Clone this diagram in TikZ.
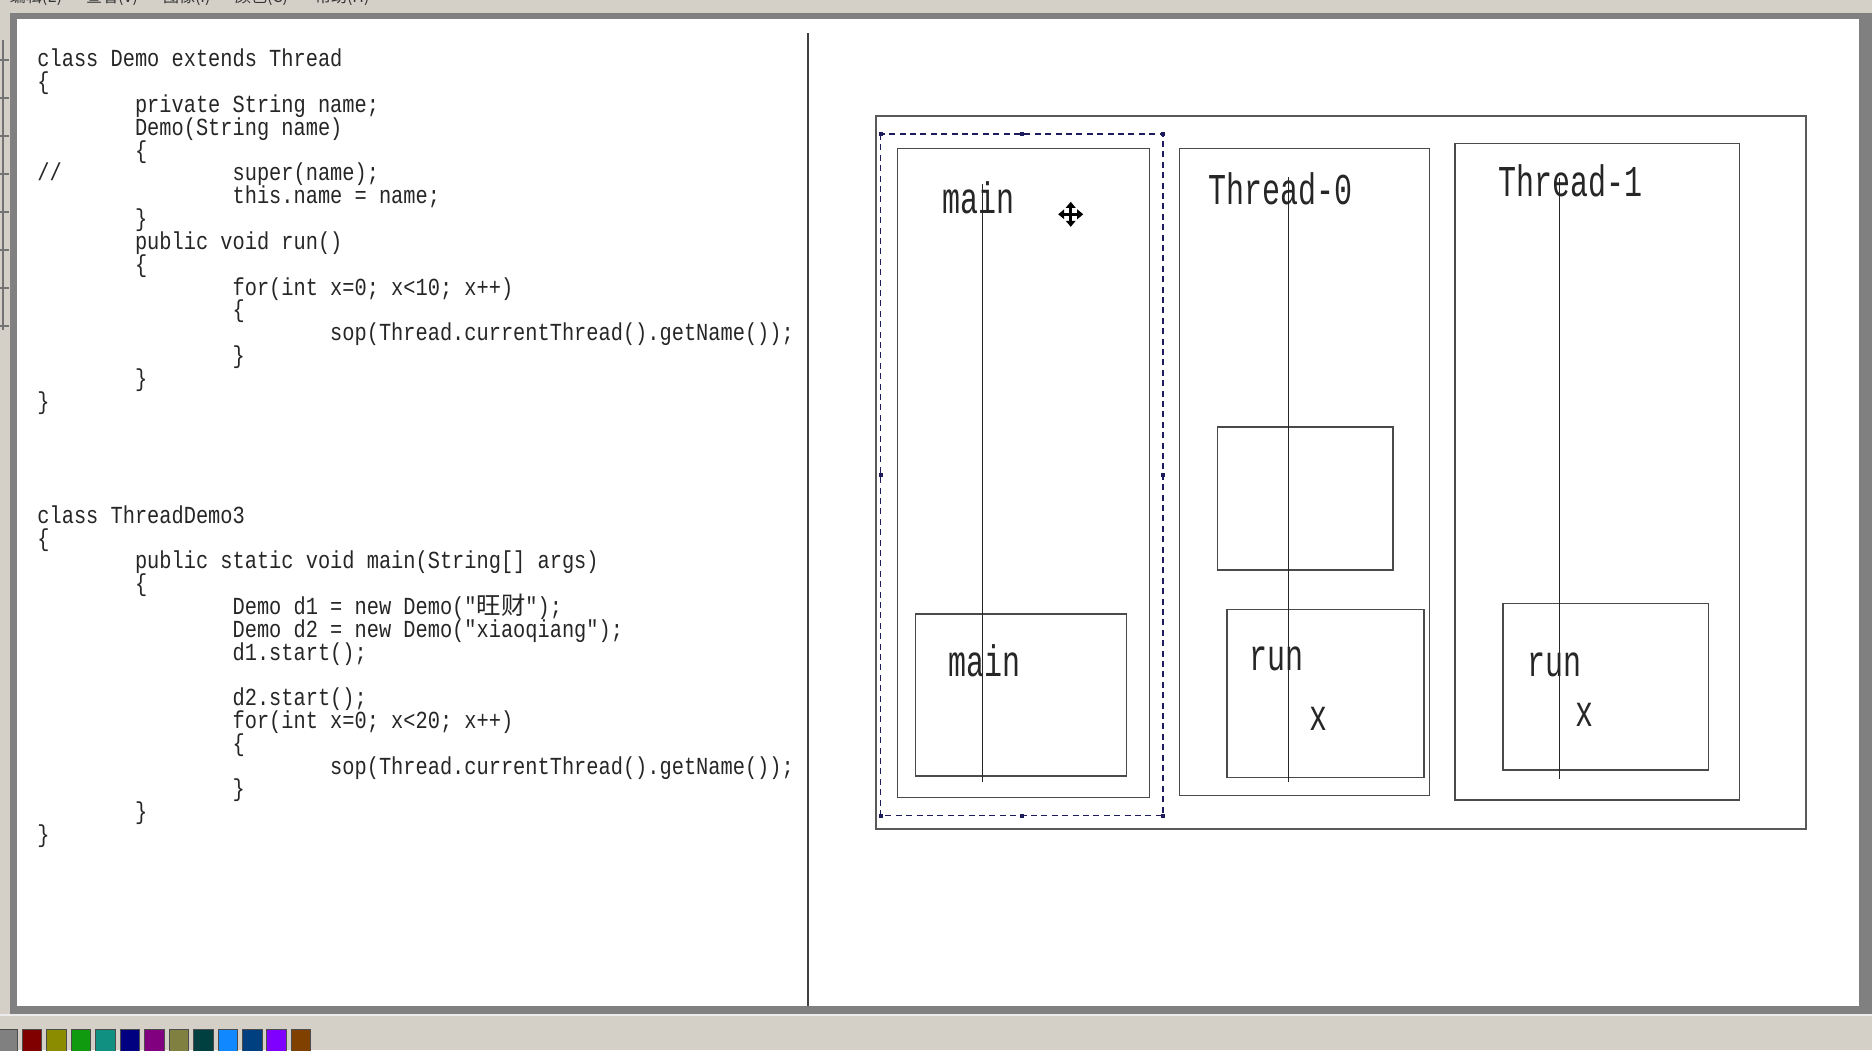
\documentclass[tikz,border=0pt]{standalone}
\usepackage{fontspec}
\newfontfamily\codefont[FakeStretch=0.83]{Liberation Mono}
\newfontfamily\lblfont[FakeStretch=0.682]{Liberation Mono}
\newfontfamily\cjk{Noto Sans CJK SC}
\definecolor{uigray}{HTML}{D4D0C8}
\definecolor{uidark}{HTML}{808080}
\definecolor{selnavy}{HTML}{1C1C5C}
\definecolor{ink}{HTML}{262626}
\definecolor{frame}{HTML}{4A4A4A}
\begin{document}
\begin{tikzpicture}[x=0.5pt,y=-0.5pt,
  code/.style={anchor=base west,inner sep=0pt,outer sep=0pt,text=ink,
    font=\codefont\fontsize{12.25pt}{14pt}\selectfont},
  lbl/.style={anchor=base west,inner sep=0pt,outer sep=0pt,text=ink,
    font=\lblfont\fontsize{22pt}{26pt}\selectfont},
  menu/.style={anchor=base west,inner sep=0pt,outer sep=0pt,text=black!80,
    font=\cjk\fontsize{8pt}{9pt}\selectfont},
  boxline/.style={draw=frame,line width=0.75pt},
  lifeline/.style={draw=ink,line width=0.7pt},
  swatch/.style={draw=black!70,line width=0.5pt},
  handle/.style={fill=selnavy}]
\useasboundingbox (0,0) rectangle (1872,1050);
% window chrome
\fill[uigray] (0,0) rectangle (1872,1050);
\fill[uidark] (10,13) rectangle (1872,1014);
\fill[white] (17,19) rectangle (1859,1006);
\draw[white!92!black,line width=1pt] (0,1015) -- (1872,1015);
\draw[black!55,line width=1pt] (3,40) -- (3,330);
\foreach \ty in {60,98,136,174,212,250,288,326}
  \draw[black!55,line width=0.6pt] (0,\ty) -- (9,\ty);
% menu (clipped at the top)
\node[menu] (m1) at (10,2.5) {编辑(E)};
\node[menu] (m2) at (86,2.5) {查看(V)};
\node[menu] (m3) at (163,2.5) {图像(I)};
\node[menu] (m4) at (235,2.5) {颜色(C)};
\node[menu] (m5) at (315,2.5) {帮助(H)};
% palette
\foreach \i/\c in {0/808080,1/800000,2/8C8C00,3/109A10,4/109080,5/000080,6/800080,7/808040,8/004040,9/1088FF,10/004080,11/8000FF,12/804000}{
  \definecolor{sw}{HTML}{\c}
  \fill[sw,swatch] ({-2.2+24.47*\i},1029.3) rectangle ({17.3+24.47*\i},1055);
}
% divider
\draw[black!75,line width=1pt] (808,33) -- (808,1006);
% code block 1
\node[code] (a0) at (37.4,66.7) {class Demo extends Thread};
\node[code] (a1) at (37.4,89.5) {\{};
\node[code] (a2) at (135,112.4) {private String name;};
\node[code] (a3) at (135,135.2) {Demo(String name)};
\node[code] (a4) at (135,158.0) {\{};
\node[code] (a5) at (37.4,180.9) {//};
\node[code] (a5b) at (232.6,180.9) {super(name);};
\node[code] (a6) at (232.6,203.7) {this.name = name;};
\node[code] (a7) at (135,226.5) {\}};
\node[code] (a8) at (135,249.3) {public void run()};
\node[code] (a9) at (135,272.2) {\{};
\node[code] (a10) at (232.6,295.0) {for(int x=0; x<10; x++)};
\node[code] (a11) at (232.6,317.8) {\{};
\node[code] (a12) at (330.2,340.7) {sop(Thread.currentThread().getName());};
\node[code] (a13) at (232.6,363.5) {\}};
\node[code] (a14) at (135,386.3) {\}};
\node[code] (a15) at (37.4,409.2) {\}};
% code block 2
\node[code] (b0) at (37.4,523.3) {class ThreadDemo3};
\node[code] (b1) at (37.4,546.1) {\{};
\node[code] (b2) at (135,568.9) {public static void main(String[] args)};
\node[code] (b3) at (135,591.7) {\{};
\node[code] (b4) at (232.6,614.5) {Demo d1 = new Demo("{\cjk\fontsize{12.2pt}{14pt}\selectfont 旺财}");};
\node[code] (b5) at (232.6,637.3) {Demo d2 = new Demo("xiaoqiang");};
\node[code] (b6) at (232.6,660.1) {d1.start();};
\node[code] (b8) at (232.6,705.7) {d2.start();};
\node[code] (b9) at (232.6,728.5) {for(int x=0; x<20; x++)};
\node[code] (b10) at (232.6,751.3) {\{};
\node[code] (b11) at (330.2,774.1) {sop(Thread.currentThread().getName());};
\node[code] (b12) at (232.6,796.9) {\}};
\node[code] (b13) at (135,819.7) {\}};
\node[code] (b14) at (37.4,842.5) {\}};
% diagram
\draw[draw=black!65,line width=0.9pt] (876,115.7) rectangle (1806,829);
\draw[boxline] (897.3,148.3) rectangle (1149.3,797.3);
\draw[boxline] (915.7,614) rectangle (1126.3,776);
\draw[boxline] (1179.3,148.3) rectangle (1429.4,795.3);
\draw[boxline] (1217.6,427) rectangle (1392.8,570);
\draw[boxline] (1227.2,609.7) rectangle (1423.8,777.7);
\draw[boxline] (1455.1,143.3) rectangle (1739.4,800);
\draw[boxline] (1503.1,603.7) rectangle (1708.4,770);
% selection
\draw[selnavy,line width=0.6pt,dash pattern=on 3pt off 2.2pt] (880.7,134) rectangle (1163,815.7);
\foreach \hx/\hy in {880.7/134,1022/134,1163/134,880.7/475,1163/475,880.7/815.7,1022/815.7,1163/815.7}
  \fill[handle] ({\hx-1.8},{\hy-1.8}) rectangle ({\hx+1.8},{\hy+1.8});
% labels
\node[lbl] (lmain) at (942.7,213.3) {main};
\node[lbl] (lmain2) at (948.3,676) {main};
\node[lbl] (lt0) at (1208.8,204) {Thread-0};
\node[lbl] (lrun0) at (1249.4,670) {run};
\node[lbl] (lx0) at (1309,730.7) {x};
\node[lbl] (lt1) at (1498.7,196.7) {Thread-1};
\node[lbl] (lrun1) at (1527.5,676) {run};
\node[lbl] (lx1) at (1575,726) {x};
% life lines
\draw[lifeline] (982.7,184) -- (982.7,782);
\draw[lifeline] (1288.6,177.3) -- (1288.6,782);
\draw[lifeline] (1559.3,178) -- (1559.3,779.3);
% move cursor
\begin{scope}[shift={(1070.7,214.3)}]
  \draw[white,line width=2.6pt] (-9,0) -- (9,0) (0,-9) -- (0,9);
  \draw[black,line width=1.4pt] (-8,0) -- (8,0) (0,-8) -- (0,8);
  \fill[black] (-12.5,0) -- (-6.5,-5) -- (-6.5,5) -- cycle;
  \fill[black] (12.5,0) -- (6.5,-5) -- (6.5,5) -- cycle;
  \fill[black] (0,-12.5) -- (-5,-6.5) -- (5,-6.5) -- cycle;
  \fill[black] (0,12.5) -- (-5,6.5) -- (5,6.5) -- cycle;
\end{scope}
\end{tikzpicture}
\end{document}
